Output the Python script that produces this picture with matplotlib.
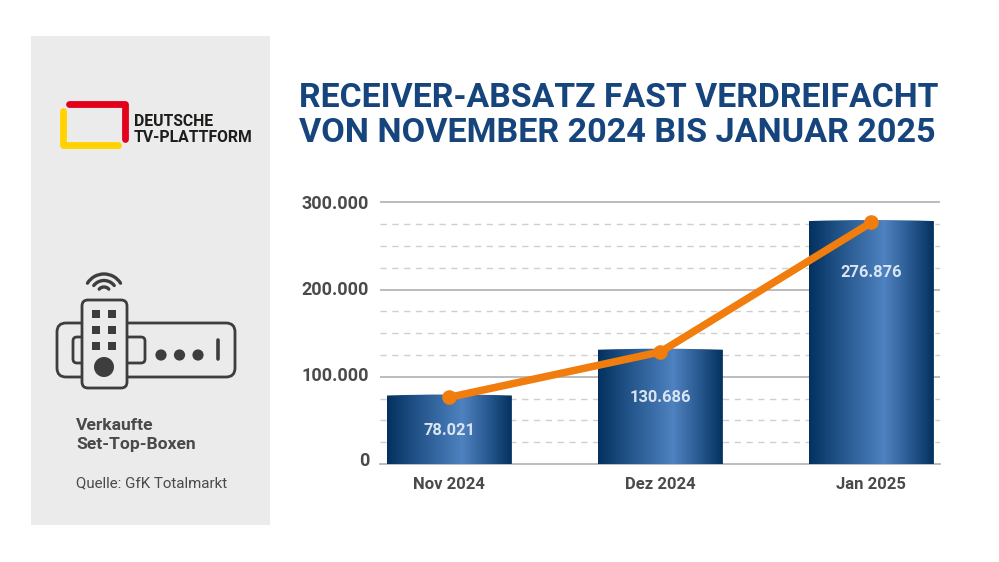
import numpy as np
import matplotlib
matplotlib.use('Agg')
import matplotlib.pyplot as plt
from matplotlib.colors import LinearSegmentedColormap
from matplotlib.patches import Rectangle, FancyBboxPatch, Circle, Arc, PathPatch
from matplotlib.path import Path

plt.rcParams['font.family'] = ['Roboto', 'DejaVu Sans']

# data
months = ['Nov 2024', 'Dez 2024', 'Jan 2025']
# heights as drawn in the picture, slightly off the printed numbers
bar_heights = [78500, 131000, 278500]
bar_labels = ['78.021', '130.686', '276.876']
line_values = [76500, 128500, 276876]
label_values = [38200, 76000, 219300]
major_ticks = [100000, 200000, 300000]
major_labels = ['0', '100.000', '200.000', '300.000']
# the y labels in the original sit a bit above their grid lines
label_positions = [5700, 103200, 201800, 300000]
minor_ticks = [25000, 50000, 75000, 125000, 150000, 175000, 225000, 250000, 275000]

W, H = 999, 562
GREY = '#4a4a4a'
ICON = '#3d3d3d'
PANEL = '#ebebeb'
NAVY = '#16447c'

fig = plt.figure(figsize=(W / 100, H / 100), dpi=100, facecolor='white')

# overlay in pixel coordinates for panel, logo, icon and text
bg = fig.add_axes([0, 0, 1, 1])
bg.set_xlim(0, W)
bg.set_ylim(H, 0)
bg.axis('off')

bg.add_patch(Rectangle((31, 36), 239, 489, fc=PANEL, ec='none'))

# logo
bg.plot([63, 63, 118], [111, 145, 145], color='#ffd200', lw=4.9,
        solid_joinstyle='round', solid_capstyle='round')
bg.plot([69, 125, 125], [104, 104, 139], color='#e2001a', lw=4.9,
        solid_joinstyle='round', solid_capstyle='round')
bg.text(134, 121, 'DEUTSCHE', fontsize=11.3, fontweight='bold', color='#1d1d1b', va='center')
bg.text(134, 137.5, 'TV-PLATTFORM', fontsize=11.3, fontweight='bold', color='#1d1d1b', va='center')

# set-top box icon
def rbox(x, y, w, h, r, fc='none', z=2):
    bg.add_patch(FancyBboxPatch((x + r, y + r), w - 2 * r, h - 2 * r,
                                boxstyle='round,pad=%g,rounding_size=%g' % (r, r),
                                fc=fc, ec=ICON, lw=2.0, zorder=z))

rbox(57, 323, 178, 54, 9)
rbox(73, 337, 72, 26, 4)
rbox(82, 300, 45, 88, 6, fc=PANEL, z=3)
for cx in [96, 112]:
    for cy in [314, 330, 346]:
        bg.add_patch(Rectangle((cx - 4, cy - 4), 8, 8, fc=ICON, ec='none', zorder=4))
bg.add_patch(Circle((104, 367), 10, fc=ICON, ec='none', zorder=4))
for cx in [161, 179.5, 198]:
    bg.add_patch(Circle((cx, 355), 5.6, fc=ICON, ec='none', zorder=4))
bg.plot([217.5, 217.5], [340, 359], color=ICON, lw=2.6, solid_capstyle='round')
for r, a in [(19.5, 58), (13, 52), (6.5, 48)]:
    bg.add_patch(Arc((104, 293.5), 2 * r, 2 * r, theta1=270 - a, theta2=270 + a,
                     ec=ICON, lw=2.4, capstyle='round'))

bg.text(76, 425, 'Verkaufte', fontsize=12.6, fontweight='bold', color=GREY, va='center')
bg.text(76, 445, 'Set-Top-Boxen', fontsize=12.6, fontweight='bold', color=GREY, va='center')
bg.text(76, 483, 'Quelle: GfK Totalmarkt', fontsize=10.9, color=GREY, va='center')

# title
bg.text(299, 98, 'RECEIVER-ABSATZ FAST VERDREIFACHT', fontsize=24.3, fontweight='bold',
        color=NAVY, va='center')
bg.text(299, 133, 'VON NOVEMBER 2024 BIS JANUAR 2025', fontsize=24.6, fontweight='bold',
        color=NAVY, va='center')

# chart
left, right, top, bottom = 380, 940, 202.3, 464
ax = fig.add_axes([left / W, 1 - bottom / H, (right - left) / W, (bottom - top) / H])
ax.patch.set_alpha(0)
xpos = np.arange(len(months))
ax.set_xlim(-0.329, 2.325)
ax.set_ylim(0, 300000)

for s in ['top', 'right', 'left']:
    ax.spines[s].set_visible(False)
ax.spines['bottom'].set_color('#b0b0b0')
ax.spines['bottom'].set_linewidth(1.2)
ax.spines['bottom'].set_zorder(1)

for t in major_ticks:
    ax.axhline(t, color='#b0b0b0', lw=1.2, zorder=1, clip_on=False, solid_capstyle='butt')
for t in minor_ticks:
    ax.axhline(t, color='#cfcfcf', lw=1.0, dashes=(4.5, 4), zorder=1)

ax.set_yticks(label_positions, major_labels)
ax.set_xticks(xpos, months)
ax.tick_params(length=0)
ax.tick_params(axis='y', labelsize=13, labelcolor=GREY, pad=7.8)
ax.tick_params(axis='x', labelsize=12, labelcolor=GREY, pad=9.5)
for lab in ax.get_xticklabels() + ax.get_yticklabels():
    lab.set_fontweight('bold')

cmap = LinearSegmentedColormap.from_list('bar', [(0, '#03315f'), (0.2, '#1d4e82'),
                                                 (0.6, '#4e82c0'), (0.78, '#2f5f98'),
                                                 (1, '#03315f')])
grad = np.linspace(0, 1, 256).reshape(1, -1)
bar_w = 0.592
for x, v in zip(xpos, bar_heights):
    x0, x1 = x - bar_w / 2, x + bar_w / 2
    path = Path([(x0, 0), (x0, v), (x, v + 2400), (x1, v), (x1, 0), (x0, 0)],
                [Path.MOVETO, Path.LINETO, Path.CURVE3, Path.CURVE3, Path.LINETO, Path.CLOSEPOLY])
    clip = PathPatch(path, transform=ax.transData)
    im = ax.imshow(grad, cmap=cmap, extent=(x0, x1, 0, v + 3000), aspect='auto', zorder=2)
    im.set_clip_path(clip)
ax.set_xlim(-0.329, 2.325)
ax.set_ylim(0, 300000)

ax.plot(xpos, line_values, color='#f07d0e', lw=5.4, marker='o', ms=9.5, zorder=3,
        clip_on=False, solid_capstyle='round')

for x, y, s in zip(xpos, label_values, bar_labels):
    ax.text(x, y, s, ha='center', va='center', fontsize=11.9, fontweight='bold',
            color='#d9e5f2', zorder=4)

fig.savefig('out.png', dpi=100)
